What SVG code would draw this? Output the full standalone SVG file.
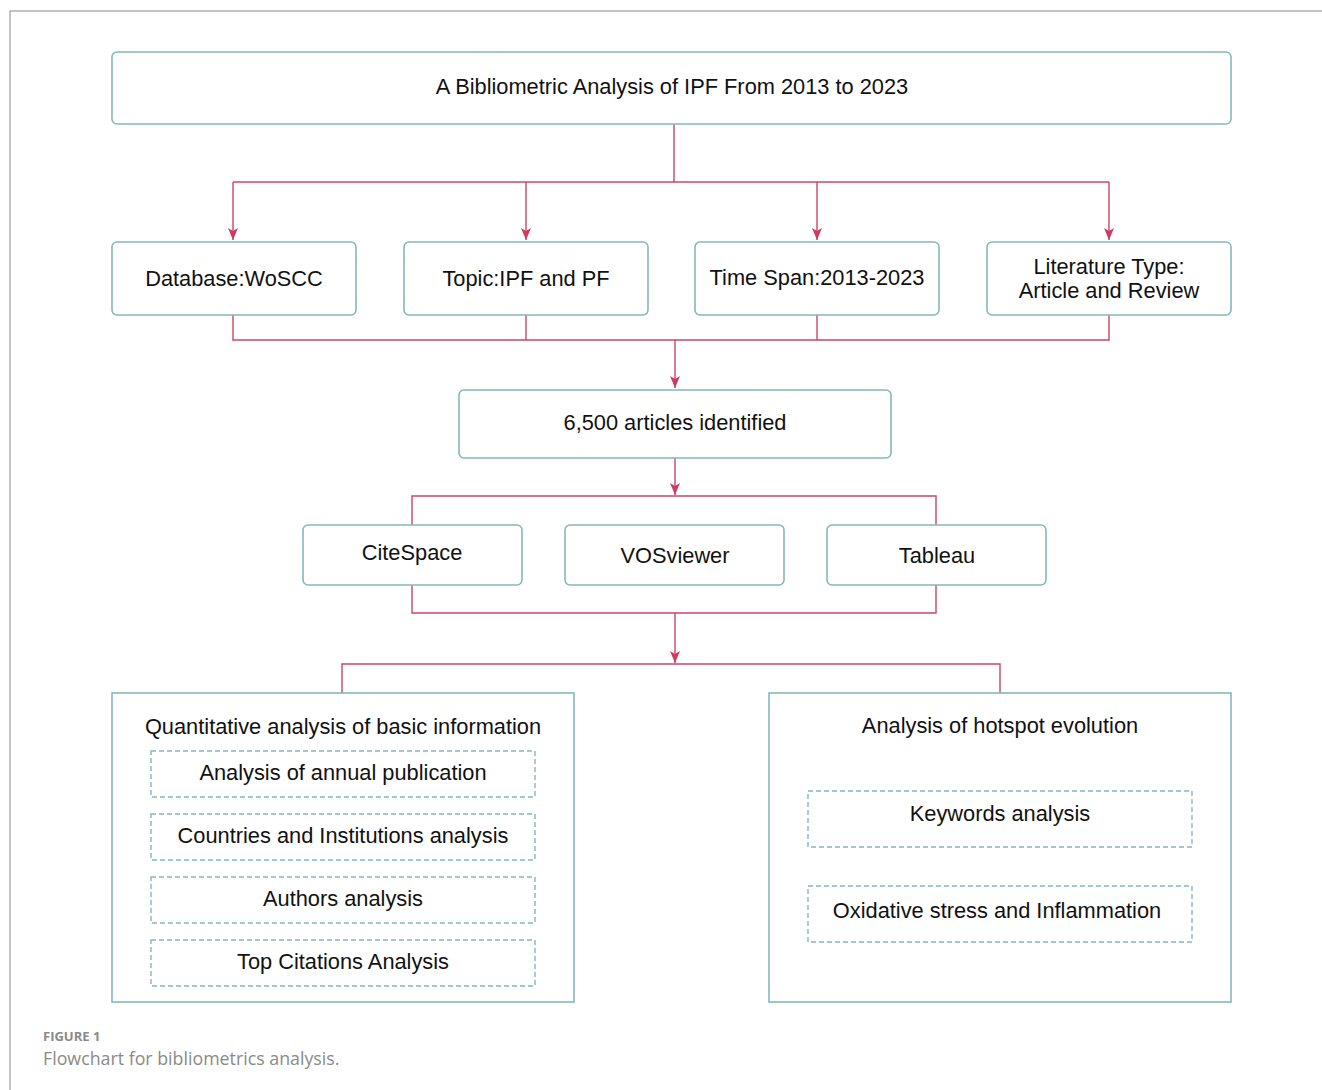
<svg xmlns="http://www.w3.org/2000/svg" width="1322" height="1090" viewBox="0 0 1322 1090">
<defs>
<style>
.box{fill:#fff;stroke:#86b8b8;stroke-width:1.6}
.dash{fill:#fff;stroke:#86b8b8;stroke-width:1.4;stroke-dasharray:5 3}
.t{font-family:"Liberation Sans",Arial,sans-serif;font-size:21.8px;fill:#111;text-anchor:middle}
.c{fill:none;stroke:#cf4466;stroke-width:1.4}
.cap{font-family:"Open Sans","Noto Sans",sans-serif;fill:#8a8a8a}
</style>
<marker id="ar" viewBox="0 0 12 10" refX="12" refY="5" markerWidth="12" markerHeight="10" markerUnits="userSpaceOnUse" orient="auto">
<path d="M0,0 L12,5 L0,10 L3,5 Z" fill="#cf3a5e"/>
</marker>
<marker id="ar2" viewBox="0 0 8 6" refX="8" refY="3" markerWidth="8" markerHeight="6" markerUnits="userSpaceOnUse" orient="auto">
<path d="M0,0 L8,3 L0,6 L2,3 Z" fill="#86b8b8"/>
</marker>
</defs>
<rect width="1322" height="1090" fill="#fff"/>
<path d="M10,1090 V11 H1322" fill="none" stroke="#b0b0b0" stroke-width="1.5"/>

<g id="connectors">
<path class="c" d="M674,124 V182"/>
<path class="c" d="M233,182 H1109"/>
<path class="c" d="M233,182 V240" marker-end="url(#ar)"/>
<path class="c" d="M526,182 V240" marker-end="url(#ar)"/>
<path class="c" d="M817,182 V240" marker-end="url(#ar)"/>
<path class="c" d="M1109,182 V240" marker-end="url(#ar)"/>
<path class="c" d="M233,315 V340 H1109 V315"/>
<path class="c" d="M526,315 V340"/>
<path class="c" d="M817,315 V340"/>
<path class="c" d="M675,340 V388" marker-end="url(#ar)"/>
<path class="c" d="M675,458 V495" marker-end="url(#ar)"/>
<path class="c" d="M412,525 V496 H936 V525"/>
<path class="c" d="M412,585 V613 H936 V585"/>
<path class="c" d="M675,613 V663" marker-end="url(#ar)"/>
<path class="c" d="M342,693 V664 H1000 V693"/>
<path d="M1000,847 V885" fill="none" stroke="#86b8b8" stroke-width="1.2" marker-end="url(#ar2)"/>
</g>

<g id="title"><rect class="box" x="112" y="52" width="1119" height="72" rx="5"/><text class="t" x="672" y="94">A Bibliometric Analysis of IPF From 2013 to 2023</text></g>

<g id="database"><rect class="box" x="112" y="242" width="244" height="73" rx="5"/><text class="t" x="234" y="286">Database:WoSCC</text></g>
<g id="topic"><rect class="box" x="404" y="242" width="244" height="73" rx="5"/><text class="t" x="526" y="286">Topic:IPF and PF</text></g>
<g id="timespan"><rect class="box" x="695" y="242" width="244" height="73" rx="5"/><text class="t" x="817" y="285">Time Span:2013-2023</text></g>
<g id="littype"><rect class="box" x="987" y="242" width="244" height="73" rx="5"/><text class="t" x="1109" y="274">Literature Type:</text><text class="t" x="1109" y="298">Article and Review</text></g>

<g id="articles"><rect class="box" x="459" y="390" width="432" height="68" rx="5"/><text class="t" x="675" y="430">6,500 articles identified</text></g>

<g id="citespace"><rect class="box" x="303" y="525" width="219" height="60" rx="5"/><text class="t" x="412" y="560">CiteSpace</text></g>
<g id="vosviewer"><rect class="box" x="565" y="525" width="219" height="60" rx="5"/><text class="t" x="675" y="563">VOSviewer</text></g>
<g id="tableau"><rect class="box" x="827" y="525" width="219" height="60" rx="5"/><text class="t" x="937" y="563">Tableau</text></g>

<g id="quant">
<rect class="box" x="112" y="693" width="462" height="309"/>
<text class="t" x="343" y="734">Quantitative analysis of basic information</text>
<rect class="dash" x="151" y="751" width="384" height="46"/><text class="t" x="343" y="780">Analysis of annual publication</text>
<rect class="dash" x="151" y="814" width="384" height="46"/><text class="t" x="343" y="843">Countries and Institutions analysis</text>
<rect class="dash" x="151" y="877" width="384" height="46"/><text class="t" x="343" y="906">Authors analysis</text>
<rect class="dash" x="151" y="940" width="384" height="46"/><text class="t" x="343" y="969">Top Citations Analysis</text>
</g>

<g id="hotspot">
<rect class="box" x="769" y="693" width="462" height="309"/>
<text class="t" x="1000" y="733">Analysis of hotspot evolution</text>
<rect class="dash" x="808" y="791" width="384" height="56"/><text class="t" x="1000" y="821">Keywords analysis</text>
<rect class="dash" x="808" y="886" width="384" height="56"/><text class="t" x="997" y="918">Oxidative stress and Inflammation</text>
</g>

<g id="caption">
<text class="cap" x="43" y="1041" font-size="13" font-weight="bold">FIGURE 1</text>
<text class="cap" x="43" y="1065" font-size="17.8">Flowchart for bibliometrics analysis.</text>
</g>
</svg>
